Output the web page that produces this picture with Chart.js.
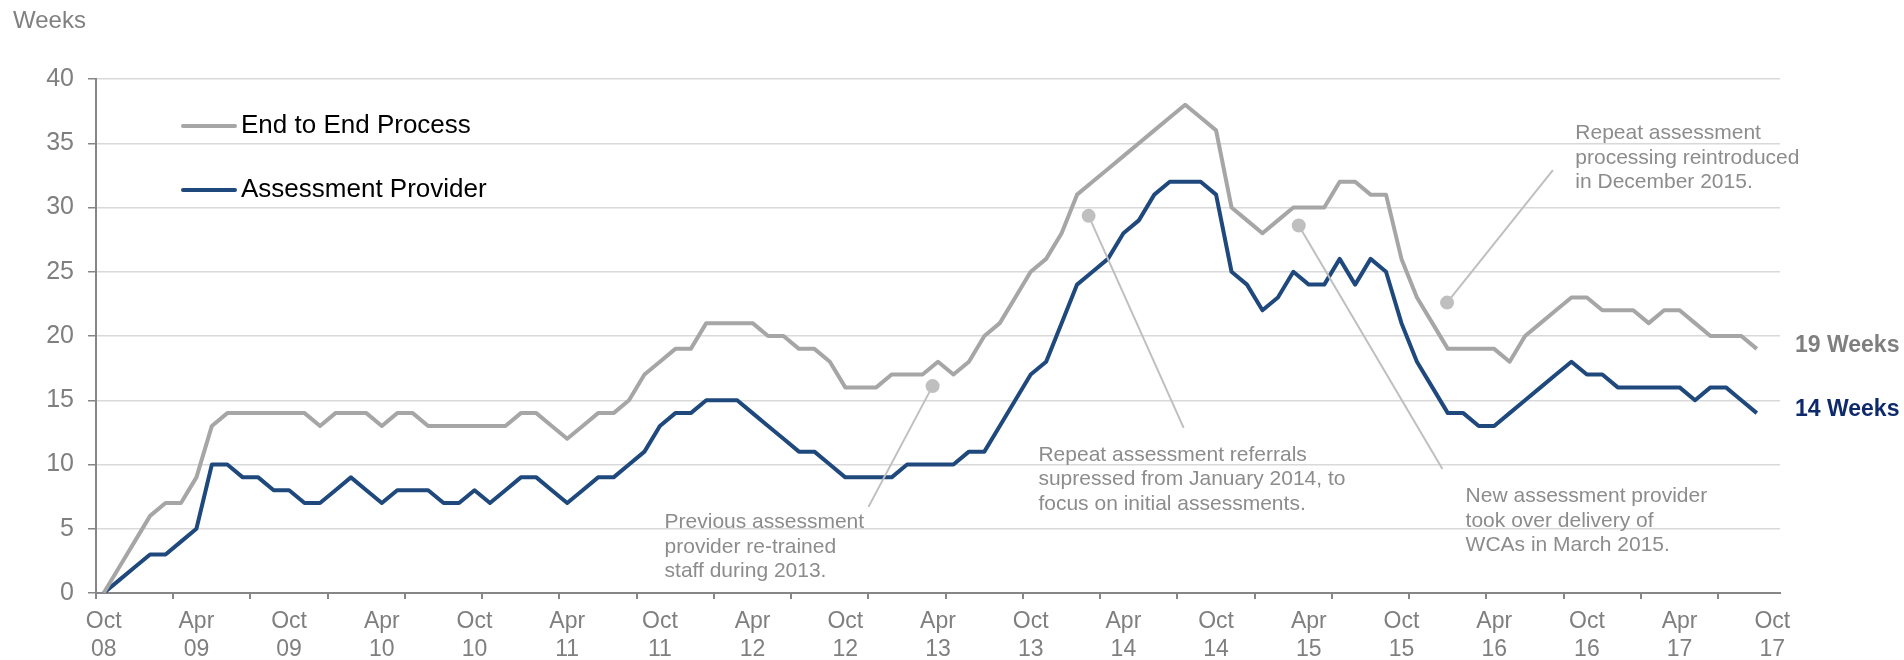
<!DOCTYPE html>
<html>
<head>
<meta charset="utf-8">
<script src="https://cdn.jsdelivr.net/npm/chart.js@4.4.1/dist/chart.umd.min.js"></script>
<style>
  html, body { margin: 0; padding: 0; background: #fff; }
  #wrap { width: 1904px; height: 660px; }
</style>
</head>
<body>
<div id="wrap"><canvas id="wca-chart" width="1904" height="660"></canvas></div>
<script>
const months = [
  'Oct 08', 'Nov 08', 'Dec 08',
  'Jan 09', 'Feb 09', 'Mar 09', 'Apr 09', 'May 09', 'Jun 09', 'Jul 09', 'Aug 09', 'Sep 09', 'Oct 09', 'Nov 09', 'Dec 09',
  'Jan 10', 'Feb 10', 'Mar 10', 'Apr 10', 'May 10', 'Jun 10', 'Jul 10', 'Aug 10', 'Sep 10', 'Oct 10', 'Nov 10', 'Dec 10',
  'Jan 11', 'Feb 11', 'Mar 11', 'Apr 11', 'May 11', 'Jun 11', 'Jul 11', 'Aug 11', 'Sep 11', 'Oct 11', 'Nov 11', 'Dec 11',
  'Jan 12', 'Feb 12', 'Mar 12', 'Apr 12', 'May 12', 'Jun 12', 'Jul 12', 'Aug 12', 'Sep 12', 'Oct 12', 'Nov 12', 'Dec 12',
  'Jan 13', 'Feb 13', 'Mar 13', 'Apr 13', 'May 13', 'Jun 13', 'Jul 13', 'Aug 13', 'Sep 13', 'Oct 13', 'Nov 13', 'Dec 13',
  'Jan 14', 'Feb 14', 'Mar 14', 'Apr 14', 'May 14', 'Jun 14', 'Jul 14', 'Aug 14', 'Sep 14', 'Oct 14', 'Nov 14', 'Dec 14',
  'Jan 15', 'Feb 15', 'Mar 15', 'Apr 15', 'May 15', 'Jun 15', 'Jul 15', 'Aug 15', 'Sep 15', 'Oct 15', 'Nov 15', 'Dec 15',
  'Jan 16', 'Feb 16', 'Mar 16', 'Apr 16', 'May 16', 'Jun 16', 'Jul 16', 'Aug 16', 'Sep 16', 'Oct 16', 'Nov 16', 'Dec 16',
  'Jan 17', 'Feb 17', 'Mar 17', 'Apr 17', 'May 17', 'Jun 17', 'Jul 17', 'Aug 17', 'Sep 17', 'Oct 17'
];

// weeks, monthly from Oct 08 to Sep 17
const endToEnd = [
  0, 2, 4, 6, 7, 7, 9, 13, 14, 14, 14, 14,
  14, 14, 13, 14, 14, 14, 13, 14, 14, 13, 13, 13,
  13, 13, 13, 14, 14, 13, 12, 13, 14, 14, 15, 17,
  18, 19, 19, 21, 21, 21, 21, 20, 20, 19, 19, 18,
  16, 16, 16, 17, 17, 17, 18, 17, 18, 20, 21, 23,
  25, 26, 28, 31, 32, 33, 34, 35, 36, 37, 38, 37,
  36, 30, 29, 28, 29, 30, 30, 30, 32, 32, 31, 31,
  26, 23, 21, 19, 19, 19, 19, 18, 20, 21, 22, 23,
  23, 22, 22, 22, 21, 22, 22, 21, 20, 20, 20, 19
];

const provider = [
  0, 1, 2, 3, 3, 4, 5, 10, 10, 9, 9, 8,
  8, 7, 7, 8, 9, 8, 7, 8, 8, 8, 7, 7,
  8, 7, 8, 9, 9, 8, 7, 8, 9, 9, 10, 11,
  13, 14, 14, 15, 15, 15, 14, 13, 12, 11, 11, 10,
  9, 9, 9, 9, 10, 10, 10, 10, 11, 11, 13, 15,
  17, 18, 21, 24, 25, 26, 28, 29, 31, 32, 32, 32,
  31, 25, 24, 22, 23, 25, 24, 24, 26, 24, 26, 25,
  21, 18, 16, 14, 14, 13, 13, 14, 15, 16, 17, 18,
  17, 17, 16, 16, 16, 16, 16, 15, 16, 16, 15, 14
];

const yMax = 40;
const yStep = 5;

const FONT = "'Liberation Sans', Arial, sans-serif";
const GREY_LINE = '#a6a6a6';
const BLUE_LINE = '#1f497d';
const NOTE_GREY = '#8c8c8c';
const LEADER = '#bfbfbf';

// call-outs: position given as [month index, weeks]
const notes = [
  { lines: ['Previous assessment', 'provider re-trained', 'staff during 2013.'],
    text: [36.3, 5.5], dot: [53.65, 16.1], end: [49.5, 6.7] },
  { lines: ['Repeat assessment referrals', 'supressed from January 2014, to', 'focus on initial assessments.'],
    text: [60.5, 10.75], dot: [63.75, 29.35], end: [69.9, 12.85] },
  { lines: ['New assessment provider', 'took over delivery of', 'WCAs in March 2015.'],
    text: [88.15, 7.5], dot: [77.35, 28.6], end: [86.65, 9.65] },
  { lines: ['Repeat assessment', 'processing reintroduced', 'in December 2015.'],
    text: [95.25, 35.75], dot: [86.95, 22.6], end: [93.8, 32.9] }
];

const extras = {
  id: 'extras',
  afterDatasetsDraw(chart) {
    const ctx = chart.ctx;
    const area = chart.chartArea;
    const xs = chart.scales.x;
    const ys = chart.scales.y;
    ctx.save();
    ctx.textBaseline = 'middle';
    ctx.textAlign = 'left';

    // axis title
    ctx.font = 'normal 24px ' + FONT;
    ctx.fillStyle = '#808080';
    ctx.fillText('Weeks', 13, 21);

    // legend
    ctx.font = 'normal 26px ' + FONT;
    chart.data.datasets.forEach((ds, k) => {
      const y = 126 + k * 64;
      ctx.strokeStyle = ds.borderColor;
      ctx.lineWidth = 4;
      ctx.lineCap = 'round';
      ctx.beginPath();
      ctx.moveTo(area.left + 87, y);
      ctx.lineTo(area.left + 139, y);
      ctx.stroke();
      ctx.fillStyle = '#000';
      ctx.fillText(ds.label, area.left + 145, y);
    });

    // call-outs
    notes.forEach(n => {
      const dx = xs.getPixelForValue(n.dot[0]);
      const dy = ys.getPixelForValue(n.dot[1]);
      ctx.strokeStyle = LEADER;
      ctx.lineWidth = 2;
      ctx.lineCap = 'butt';
      ctx.beginPath();
      ctx.moveTo(dx, dy);
      ctx.lineTo(xs.getPixelForValue(n.end[0]), ys.getPixelForValue(n.end[1]));
      ctx.stroke();
      ctx.fillStyle = LEADER;
      ctx.beginPath();
      ctx.arc(dx, dy, 7, 0, Math.PI * 2);
      ctx.fill();

      ctx.font = 'normal 21px ' + FONT;
      ctx.fillStyle = NOTE_GREY;
      const tx = xs.getPixelForValue(n.text[0]);
      const ty = ys.getPixelForValue(n.text[1]);
      n.lines.forEach((line, j) => ctx.fillText(line, tx, ty + j * 24.5));
    });

    // latest values at the line ends
    ctx.font = 'bold 23px ' + FONT;
    [[endToEnd, '#7f7f7f'], [provider, '#0e2a6b']].forEach(([series, colour]) => {
      const last = series[series.length - 1];
      ctx.fillStyle = colour;
      ctx.fillText(last + ' Weeks', area.right + 15, ys.getPixelForValue(last) - 3);
    });

    ctx.restore();
  }
};

new Chart(document.getElementById('wca-chart'), {
  type: 'line',
  data: {
    labels: months,
    datasets: [
      {
        label: 'End to End Process',
        data: endToEnd,
        borderColor: GREY_LINE,
        borderWidth: 4,
        pointRadius: 0,
        tension: 0,
        borderJoinStyle: 'round'
      },
      {
        label: 'Assessment Provider',
        data: provider,
        borderColor: BLUE_LINE,
        borderWidth: 4,
        pointRadius: 0,
        tension: 0,
        borderJoinStyle: 'round'
      }
    ]
  },
  options: {
    responsive: false,
    animation: false,
    devicePixelRatio: 1,
    layout: { padding: { top: 79, right: 124, bottom: 0, left: 0 } },
    plugins: {
      legend: { display: false },
      tooltip: { enabled: false }
    },
    scales: {
      x: {
        offset: true,
        afterFit(scale) { scale.height = 67; },
        border: { color: '#868686', width: 2 },
        grid: {
          offset: true,
          drawOnChartArea: false,
          tickLength: 6,
          lineWidth: 2,
          color: c => (c.index % 5 === 0 ? '#868686' : 'rgba(0,0,0,0)'),
          tickColor: c => (c.index % 5 === 0 ? '#868686' : 'rgba(0,0,0,0)')
        },
        ticks: {
          autoSkip: false,
          maxRotation: 0,
          padding: 9,
          color: '#7f7f7f',
          font: { family: FONT, size: 23 },
          callback: (val, idx) => (idx % 6 === 0 ? months[idx].split(' ') : '')
        }
      },
      y: {
        min: 0,
        max: yMax,
        afterFit(scale) { scale.width = 96; },
        border: { color: '#868686', width: 2 },
        grid: {
          color: '#d9d9d9',
          lineWidth: 1.5,
          tickLength: 8,
          tickColor: '#868686'
        },
        ticks: {
          stepSize: yStep,
          padding: 14,
          color: '#7f7f7f',
          font: { family: FONT, size: 25 }
        }
      }
    }
  },
  plugins: [extras]
});
</script>
</body>
</html>
